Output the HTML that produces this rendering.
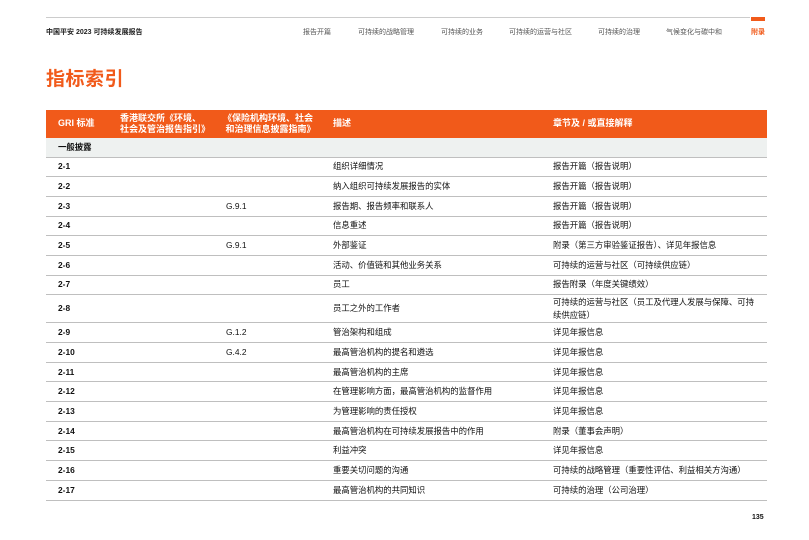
<!DOCTYPE html>
<html><head><meta charset="utf-8">
<style>
*{margin:0;padding:0;box-sizing:border-box}
body{width:809px;height:540px;background:#fff;position:relative;overflow:hidden;font-family:"Liberation Sans","Noto Sans CJK SC",sans-serif;color:#111}
.a{position:absolute;white-space:nowrap}
.nav{font-size:7px;color:#555;top:27px}
table{position:absolute;left:46px;top:110px;width:721px;border-collapse:collapse;font-size:8.4px;table-layout:fixed}
td{padding:0 0 0 12px;border-bottom:1px solid #bfbfbf;vertical-align:middle;line-height:13px;white-space:nowrap;overflow:visible}
thead td{background:#f15a1a;color:#fff;font-weight:bold;border:none;height:28px;line-height:11.5px;font-size:9px}
tr.g td{background:#eef1f0;font-weight:bold;height:19px}
tbody td:first-child{font-weight:bold}
tbody td{height:19.7px}
</style></head><body>
<div class="a" style="left:46px;top:17px;width:704px;height:1px;background:#ccc"></div>
<div class="a" style="left:751px;top:17px;width:14px;height:4px;background:#f15a1a"></div>
<div class="a" style="left:46px;top:27px;font-size:7px;font-weight:bold;color:#222">中国平安 2023 可持续发展报告</div>
<div class="a nav" style="left:303px">报告开篇</div>
<div class="a nav" style="left:358px">可持续的战略管理</div>
<div class="a nav" style="left:441px">可持续的业务</div>
<div class="a nav" style="left:509px">可持续的运营与社区</div>
<div class="a nav" style="left:598px">可持续的治理</div>
<div class="a nav" style="left:666px">气候变化与碳中和</div>
<div class="a nav" style="left:751px;color:#f15a1a;font-weight:bold">附录</div>
<div class="a" style="left:46px;top:64px;font-size:19px;font-weight:bold;color:#f15a1a;letter-spacing:0.5px">指标索引</div>
<table>
<colgroup><col style="width:62px"><col style="width:106px"><col style="width:107px"><col style="width:220px"><col></colgroup>
<thead><tr><td>GRI 标准</td><td>香港联交所《环境、<br>社会及管治报告指引》</td><td style="padding-left:9px">《保险机构环境、社会<br>&nbsp;和治理信息披露指南》</td><td>描述</td><td>章节及 / 或直接解释</td></tr></thead>
<tbody>
<tr class="g"><td>一般披露</td><td></td><td></td><td></td><td></td></tr>
<tr><td>2-1</td><td></td><td></td><td>组织详细情况</td><td>报告开篇（报告说明）</td></tr>
<tr><td>2-2</td><td></td><td></td><td>纳入组织可持续发展报告的实体</td><td>报告开篇（报告说明）</td></tr>
<tr><td>2-3</td><td></td><td>G.9.1</td><td>报告期、报告频率和联系人</td><td>报告开篇（报告说明）</td></tr>
<tr><td>2-4</td><td></td><td></td><td>信息重述</td><td>报告开篇（报告说明）</td></tr>
<tr><td>2-5</td><td></td><td>G.9.1</td><td>外部鉴证</td><td>附录（第三方审验鉴证报告）、详见年报信息</td></tr>
<tr><td>2-6</td><td></td><td></td><td>活动、价值链和其他业务关系</td><td>可持续的运营与社区（可持续供应链）</td></tr>
<tr><td>2-7</td><td></td><td></td><td>员工</td><td>报告附录（年度关键绩效）</td></tr>
<tr><td style="height:28px">2-8</td><td></td><td></td><td>员工之外的工作者</td><td style="line-height:13px">可持续的运营与社区（员工及代理人发展与保障、可持<br>续供应链）</td></tr>
<tr><td>2-9</td><td></td><td>G.1.2</td><td>管治架构和组成</td><td>详见年报信息</td></tr>
<tr><td>2-10</td><td></td><td>G.4.2</td><td>最高管治机构的提名和遴选</td><td>详见年报信息</td></tr>
<tr><td>2-11</td><td></td><td></td><td>最高管治机构的主席</td><td>详见年报信息</td></tr>
<tr><td>2-12</td><td></td><td></td><td>在管理影响方面，最高管治机构的监督作用</td><td>详见年报信息</td></tr>
<tr><td>2-13</td><td></td><td></td><td>为管理影响的责任授权</td><td>详见年报信息</td></tr>
<tr><td>2-14</td><td></td><td></td><td>最高管治机构在可持续发展报告中的作用</td><td>附录（董事会声明）</td></tr>
<tr><td>2-15</td><td></td><td></td><td>利益冲突</td><td>详见年报信息</td></tr>
<tr><td>2-16</td><td></td><td></td><td>重要关切问题的沟通</td><td>可持续的战略管理（重要性评估、利益相关方沟通）</td></tr>
<tr><td>2-17</td><td></td><td></td><td>最高管治机构的共同知识</td><td>可持续的治理（公司治理）</td></tr>
</tbody></table>
<div class="a" style="left:752px;top:514px;font-size:7px;font-weight:bold">135</div>
</body></html>
